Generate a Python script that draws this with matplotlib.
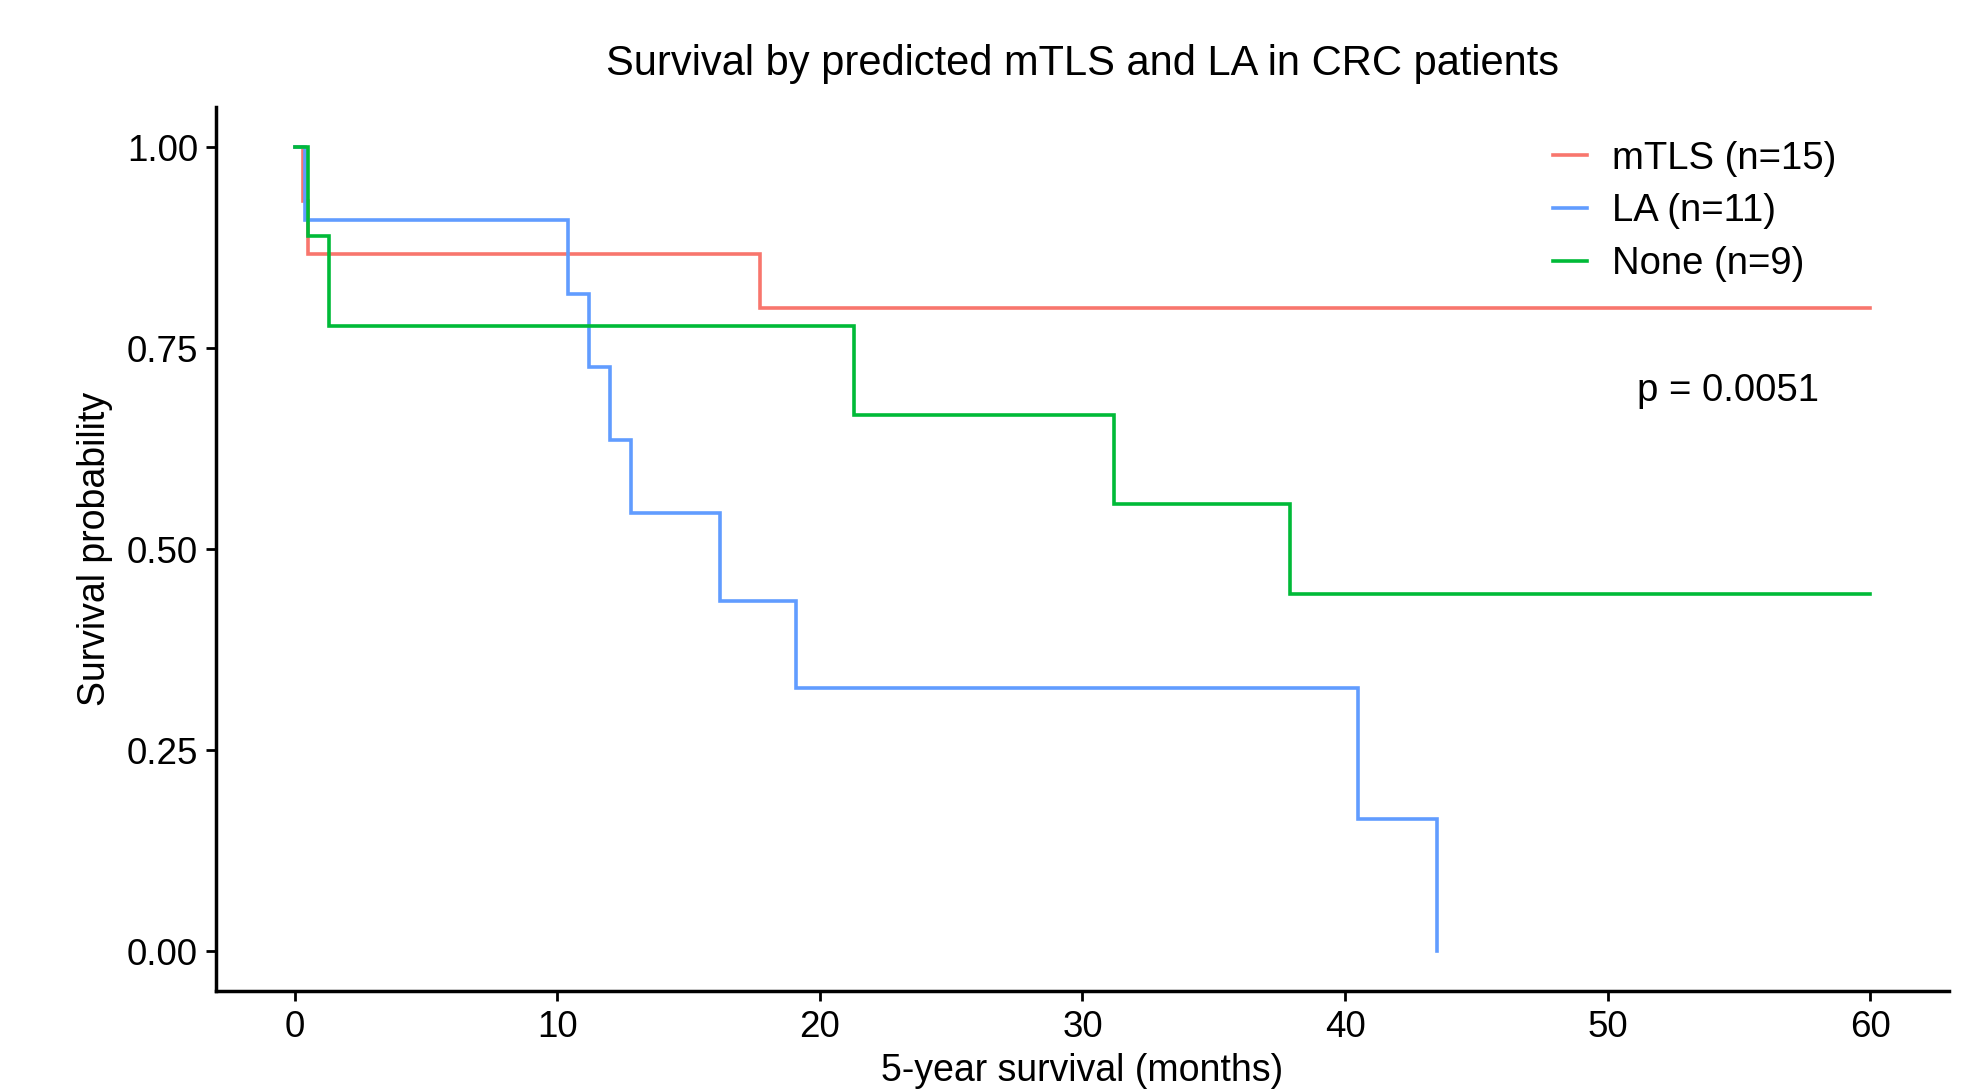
import matplotlib
matplotlib.use("Agg")
import matplotlib.pyplot as plt

plt.rcParams['font.family'] = ['Liberation Sans', 'DejaVu Sans']

# Data
mtls_time = [0, 0.3, 0.5, 17.7, 60]
mtls_surv = [1.0, 0.933, 0.867, 0.800, 0.800]

la_time = [0, 0.4, 10.4, 11.2, 12.0, 12.8, 16.2, 19.1, 40.5, 43.5]
la_surv = [1.0, 0.909, 0.818, 0.727, 0.636, 0.545, 0.436, 0.327, 0.164, 0.0]

none_time = [0, 0.5, 1.3, 21.3, 31.2, 37.9, 60]
none_surv = [1.0, 0.889, 0.778, 0.667, 0.556, 0.444, 0.444]

labels = ["mTLS (n=15)", "LA (n=11)", "None (n=9)"]
colors = ["#F8766D", "#619CFF", "#00BA38"]
x_ticks = [0, 10, 20, 30, 40, 50, 60]
y_ticks = [0.00, 0.25, 0.50, 0.75, 1.00]
y_ticklabels = ["0.00", "0.25", "0.50", "0.75", "1.00"]

fig = plt.figure(figsize=(19.78, 10.90), dpi=100)
ax = fig.add_axes([0.1092, 0.0904, 0.9853 - 0.1092, 0.9018 - 0.0904])

series = [(mtls_time, mtls_surv), (la_time, la_surv), (none_time, none_surv)]
for (t, s), lab, c in zip(series, labels, colors):
    ax.step(t, s, where='post', color=c, lw=2.6, label=lab, solid_joinstyle='miter')

ax.set_xlim(-3, 63)
ax.set_ylim(-0.05, 1.05)
ax.set_xticks(x_ticks)
ax.set_yticks(y_ticks)
ax.set_yticklabels(y_ticklabels)

for side in ['top', 'right']:
    ax.spines[side].set_visible(False)
for side in ['left', 'bottom']:
    ax.spines[side].set_linewidth(2.5)
    ax.spines[side].set_color('black')

ax.tick_params(axis='both', labelsize=26.5, length=7, width=2, color='black', pad=6)

ax.set_xlabel("5-year survival (months)", fontsize=27, labelpad=6)
ax.set_ylabel("Survival probability", fontsize=27, labelpad=10)
ax.set_title("Survival by predicted mTLS and LA in CRC patients", fontsize=30, pad=23)

ax.text(54.6, 0.697, "p = 0.0051", fontsize=27.5, ha='center', va='center')

leg = ax.legend(loc='upper right', bbox_to_anchor=(0.935, 0.962), frameon=False,
                fontsize=27.5, handlelength=0.9, handletextpad=0.65, labelspacing=0.44,
                borderaxespad=0, borderpad=0)

fig.savefig("out.png", dpi=100)
